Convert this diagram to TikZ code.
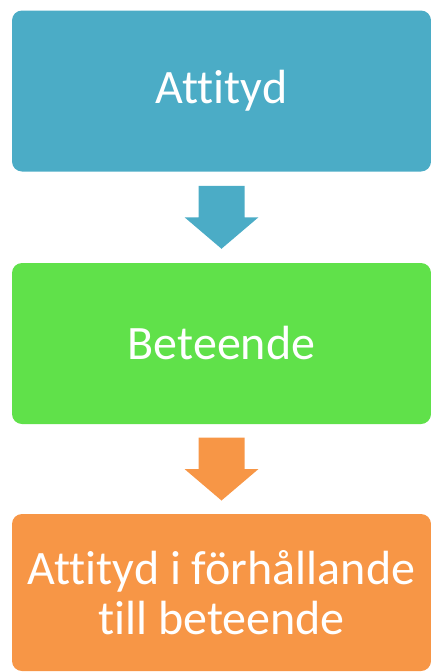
\documentclass[tikz,border=0pt]{standalone}
\usepackage{fontspec}
\setmainfont{Carlito}[Ligatures={NoCommon}]
\usetikzlibrary{shapes}
\usetikzlibrary{calc}
\definecolor{stepblue}{HTML}{4BACC6}
\definecolor{stepgreen}{HTML}{60E14A}
\definecolor{steporange}{HTML}{F79646}
\tikzset{
    box/.style = {rectangle, rounded corners=10pt, inner sep=0pt, outer sep=0pt, minimum width=419pt, minimum height=161pt, align=center, text=white, font=\fontsize{48}{50}\selectfont},
    boxb/.style = {box, fill=stepblue},
    boxg/.style = {box, fill=stepgreen},
    boxo/.style = {box, fill=steporange, minimum height=157pt}
}
% fat down arrow centred on a named coordinate
\newcommand{\downblock}[2]{%
  \fill[#2] ($(#1)+(-23,31.5)$) -- ($(#1)+(23,31.5)$) -- ($(#1)+(23,0)$) -- ($(#1)+(37,0)$)
    -- ($(#1)+(0,-31.5)$) -- ($(#1)+(-37,0)$) -- ($(#1)+(-23,0)$) -- cycle;}
\begin{document}
\begin{tikzpicture}[x=1pt,y=1pt]
  \useasboundingbox (0,0) rectangle (431,-672);

  \node[boxb] at (221.5,-91) (att) {Attityd};
  \node[boxg] at (221.5,-343.5) (bet) {Beteende};
  \node[boxo] at (221.5,-592.5) (rel) {Attityd i förhållande\\till beteende};

  % arrows between the boxes
  \coordinate (m1) at ($(att.south)!0.5!(bet.north)$);
  \coordinate (m2) at ($(bet.south)!0.5!(rel.north)$);
  \downblock{m1}{stepblue}
  \downblock{m2}{steporange}
\end{tikzpicture}
\end{document}
